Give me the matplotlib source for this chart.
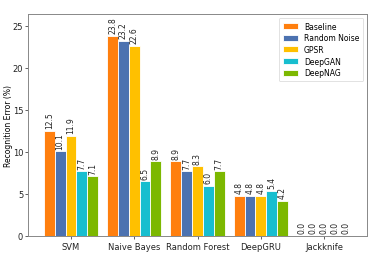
import matplotlib
matplotlib.use("Agg")
import matplotlib.pyplot as plt
import numpy as np

categories = ["SVM", "Naive Bayes", "Random Forest", "DeepGRU", "Jackknife"]
series_names = ["Baseline", "Random Noise", "GPSR", "DeepGAN", "DeepNAG"]
baseline = [12.5, 23.8, 8.9, 4.8, 0.0]
random_noise = [10.1, 23.2, 7.7, 4.8, 0.0]
gpsr = [11.9, 22.6, 8.3, 4.8, 0.0]
deepgan = [7.7, 6.5, 6.0, 5.4, 0.0]
deepnag = [7.1, 8.9, 7.7, 4.2, 0.0]
yticks = [0, 5, 10, 15, 20, 25]

COLORS = ["#ff7f0e", "#4c72b0", "#ffc000", "#17becf", "#7cb800"]

fig = plt.figure(figsize=(3.74, 2.55), dpi=100)
ax = fig.add_axes([28 / 374, 18 / 255, 339 / 374, 222 / 255])

x = np.arange(len(categories))
w = 0.171
for i, (name, vals) in enumerate(zip(series_names,
                                     [baseline, random_noise, gpsr, deepgan, deepnag])):
    pos = x + (i - 2) * w
    ax.bar(pos, vals, w, color=COLORS[i], edgecolor="white", linewidth=0.6, label=name)
    for px, v in zip(pos, vals):
        ax.text(px, v + 0.3, f"{v:.1f}", rotation=90, ha="center", va="bottom",
                fontsize=5.5, color="#222222")

ax.set_xlim(-0.68, 4.68)
ax.set_ylim(0, 26.4)
ax.set_xticks(x)
ax.set_xticklabels(categories, fontsize=6)
ax.set_yticks(yticks)
ax.tick_params(axis="y", labelsize=6, length=2, width=0.5, pad=1.5, colors="#222222")
ax.tick_params(axis="x", length=2, width=0.5, pad=2, colors="#222222")
ax.set_ylabel("Recognition Error (%)", fontsize=5.5)
ax.yaxis.set_label_coords(-0.045, 0.5)
for s in ax.spines.values():
    s.set_color("#888888")
    s.set_linewidth(0.7)

leg = ax.legend(loc="upper right", fontsize=5.5, handlelength=2.0, handleheight=0.8,
                borderpad=0.5, labelspacing=0.35, framealpha=1, fancybox=True)
leg.get_frame().set_linewidth(0.4)

fig.savefig("out.png", dpi=100)
